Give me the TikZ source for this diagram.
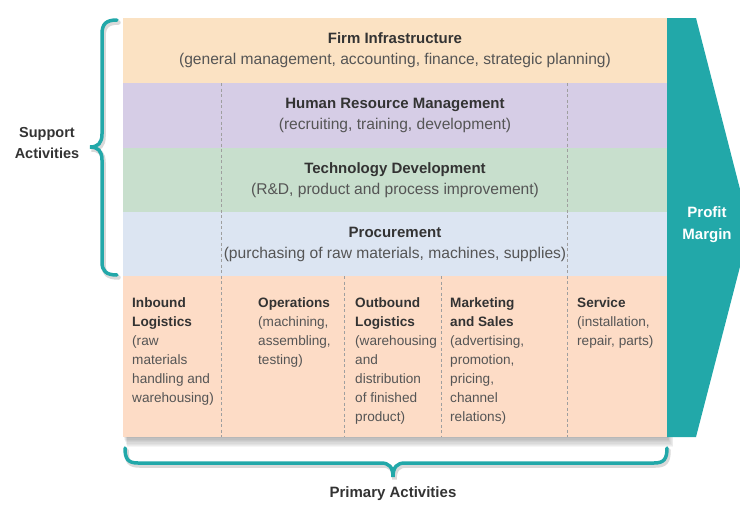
\documentclass[tikz,border=0pt]{standalone}
\usepackage{fontspec}
\setmainfont{Liberation Sans}

\definecolor{infra}{HTML}{FBE2C3}
\definecolor{personal}{HTML}{D6CDE6}
\definecolor{technik}{HTML}{C8DFCD}
\definecolor{beschaffung}{HTML}{DCE5F2}
\definecolor{primaer}{HTML}{FDDCC6}
\definecolor{petrol}{HTML}{22A8A9}
\definecolor{titel}{HTML}{333333}
\definecolor{sub}{HTML}{555555}

\newcommand{\ttl}[1]{\textcolor{titel}{\textbf{#1}}}

\tikzset{
    zeile/.style={minimum width=544pt, inner sep=0pt, align=center, text=sub,
        font=\fontsize{15.6}{21}\selectfont},
    spalte/.style={anchor=north west, inner sep=0pt, align=left, text=sub,
        font=\fontsize{13.6}{19}\selectfont},
    trenn/.style={gray!75, line width=.8pt, dash pattern=on 3pt off 2.5pt},
    klammer/.style={petrol, line width=3.5pt, line cap=round},
    schatten/.style={black, opacity=.15, line width=4.5pt, line cap=round, xshift=1.5pt, yshift=-2.5pt},
}

\begin{document}
\begin{tikzpicture}
    \begin{scope}[x=1pt, y=-1pt]
        \useasboundingbox (0,0) rectangle (740,507);
        \clip (0,0) rectangle (740,507);

        %Schatten
        \foreach \i in {1,...,8} {
            \fill[black, opacity=.04] (123+\i*.5,437) rectangle (667+\i*.8,437+\i*1.3);
        }

        %Gewinnpfeil
        \fill[petrol] (667,18) -- (696,18) -- (750,228) -- (696,437) -- (667,437) -- cycle;
        \node[font=\bfseries\fontsize{15}{22}\selectfont, text=white, align=center] (marge) at (707,225) {Profit\\Margin};

        %Unterstuetzende Aktivitaeten
        \node[zeile, fill=infra, minimum height=65pt] (infra) at (395,50.5)
            {{\fontsize{15}{21}\selectfont\ttl{Firm Infrastructure}}\\(general management, accounting, finance, strategic planning)};
        \node[zeile, fill=personal, minimum height=65pt] (personal) at (395,115.5)
            {{\fontsize{15}{21}\selectfont\ttl{Human Resource Management}}\\(recruiting, training, development)};
        \node[zeile, fill=technik, minimum height=64pt] (technik) at (395,180)
            {{\fontsize{15}{21}\selectfont\ttl{Technology Development}}\\(R\&D, product and process improvement)};
        \node[zeile, fill=beschaffung, minimum height=64pt] (beschaffung) at (395,244)
            {{\fontsize{15}{21}\selectfont\ttl{Procurement}}\\(purchasing of raw materials, machines, supplies)};

        %Primaere Aktivitaeten
        \node[zeile, fill=primaer, minimum height=161pt] (primaer) at (395,356.5) {};

        %Trennlinien
        \foreach \x in {221,567} {
            \draw[trenn] (\x,83) -- (\x,437);
        }
        \foreach \x in {344,441} {
            \draw[trenn] (\x,276) -- (\x,437);
        }

        \node[spalte] (inbound) at (132,297)
            {\ttl{Inbound}\\\ttl{Logistics}\\(raw\\materials\\handling and\\warehousing)};
        \node[spalte] (operations) at (258,297)
            {\ttl{Operations}\\(machining,\\assembling,\\testing)};
        \node[spalte] (outbound) at (355,297)
            {\ttl{Outbound}\\\ttl{Logistics}\\(warehousing\\and\\distribution\\of finished\\product)};
        \node[spalte] (marketing) at (450,297)
            {\ttl{Marketing}\\\ttl{and Sales}\\(advertising,\\promotion,\\pricing,\\channel\\relations)};
        \node[spalte] (service) at (577,297)
            {\ttl{Service}\\(installation,\\repair, parts)};

        %Klammern
        \foreach \s in {schatten, klammer} {
            \draw[\s] (117,20) .. controls (106,20) and (102,24) .. (102,34) -- (102,134)
                .. controls (102,143) and (98,147) .. (90,147)
                .. controls (98,147) and (102,151) .. (102,160) -- (102,262)
                .. controls (102,271) and (106,275) .. (117,275);
            \draw[\s] (125,448) .. controls (125,459) and (128,463) .. (138,463) -- (381,463)
                .. controls (389,463) and (393,467) .. (393,477)
                .. controls (393,467) and (397,463) .. (405,463) -- (654,463)
                .. controls (664,463) and (667,459) .. (667,448);
        }
        \node[font=\bfseries\fontsize{14.5}{21}\selectfont, text=titel, align=center] (support) at (47,143.5) {Support\\Activities};
        \node[font=\bfseries\fontsize{15}{18}\selectfont, text=titel] (primlabel) at (393,494) {Primary Activities};
    \end{scope}
\end{tikzpicture}
\end{document}
